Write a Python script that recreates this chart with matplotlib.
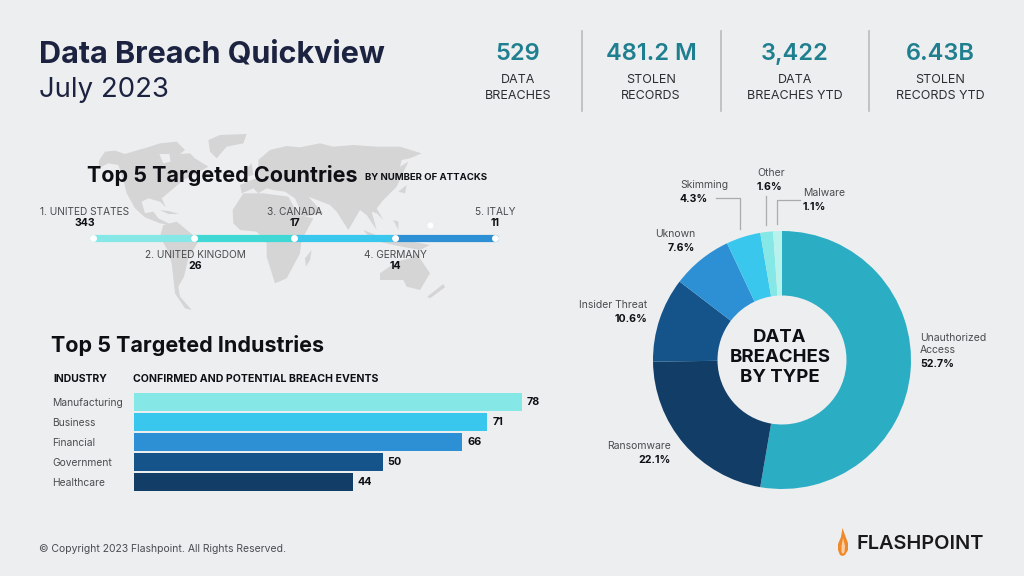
import matplotlib
matplotlib.use('Agg')
import matplotlib.pyplot as plt
from matplotlib.patches import Polygon

W, H = 1024, 576
BG = '#edeef0'
INK = '#0d0f14'
GREY = '#4a4c50'
TEAL = '#1f7f8f'
NAVY = '#1c2340'
LAND = '#d5d5d6'

plt.rcParams['font.family'] = ['Inter', 'DejaVu Sans']

# header numbers
kpi_values = ['529', '481.2 M', '3,422', '6.43B']
kpi_labels = ['DATA\nBREACHES', 'STOLEN\nRECORDS', 'DATA\nBREACHES YTD', 'STOLEN\nRECORDS YTD']

# countries
countries = ['1. UNITED STATES', '2. UNITED KINGDOM', '3. CANADA', '4. GERMANY', '5. ITALY']
country_attacks = [343, 26, 17, 14, 11]
country_ranks = [0, 1, 2, 3, 4]
segment_colors = ['#85e8e6', '#40d8d4', '#3ac7ee', '#2e90d4']

# industries
industries = ['Manufacturing', 'Business', 'Financial', 'Government', 'Healthcare']
industry_events = [78, 71, 66, 50, 44]
bar_colors = ['#85e8e6', '#3ac7ee', '#2e90d4', '#14548a', '#113d66']

# breach types, clockwise from the top
breach_types = ['Unauthorized\nAccess', 'Ransomware', 'Insider Threat', 'Uknown', 'Skimming', 'Other', 'Malware']
breach_pct = [52.7, 22.1, 10.6, 7.6, 4.3, 1.6, 1.1]
pie_colors = ['#2badc4', '#113d66', '#14548a', '#2e90d4', '#3ac7ee', '#85e8e6', '#b8f2ec']

# rough world map outlines, traced from crops of the reference
west_shapes = [
    [(58, 90), (75, 65), (105, 62), (135, 72), (175, 60), (210, 50), (240, 40), (290, 35), (315, 60), (300, 72),
     (330, 70), (345, 85), (385, 110), (350, 130), (310, 150), (275, 180), (245, 205), (258, 232), (240, 215),
     (205, 205), (185, 215), (195, 250), (220, 245), (235, 265), (275, 285), (240, 280), (195, 262), (165, 235),
     (140, 190), (130, 150), (115, 105), (85, 100), (55, 115)],
    [(385, 30), (420, 15), (500, 12), (490, 40), (440, 50), (410, 85), (390, 65)],
    [(240, 240), (270, 244), (297, 252), (265, 252)],
    [(250, 285), (290, 275), (345, 320), (355, 335), (325, 385), (312, 440), (295, 470), (300, 500), (335, 540),
     (315, 535), (285, 490), (275, 400), (265, 365), (240, 320)],
]
hudson_bay = [(238, 72), (268, 72), (272, 95), (250, 100)]
east_shapes = [
    [(38, 240), (70, 190), (130, 190), (205, 200), (235, 255), (280, 265), (245, 330), (240, 370), (200, 445),
     (165, 460), (140, 380), (140, 340), (110, 305), (60, 300), (40, 280)],
    [(255, 385), (275, 360), (270, 390), (258, 410)],
    [(115, 90), (150, 60), (200, 48), (240, 52), (300, 40), (340, 50), (400, 45), (470, 50), (540, 50), (605, 70),
     (570, 85), (545, 90), (540, 110), (565, 95), (530, 170), (510, 190), (490, 210), (470, 235), (490, 270),
     (470, 250), (455, 245), (470, 300), (440, 255), (420, 240), (385, 300), (350, 245), (330, 225), (265, 200),
     (310, 250), (250, 260), (225, 205), (195, 185), (160, 180), (140, 175), (115, 190), (100, 175), (65, 190),
     (60, 165), (95, 150), (120, 140), (115, 110)],
    [(75, 120), (95, 100), (100, 135), (80, 140)],
    [(535, 185), (560, 165), (555, 190)],
    [(430, 300), (480, 320), (550, 330), (630, 345), (600, 360), (520, 345), (455, 330)],
    [(520, 270), (535, 275), (535, 300)],
    [(480, 430), (530, 395), (570, 385), (590, 370), (630, 430), (600, 480), (560, 470), (550, 450), (480, 450)],
    [(622, 500), (670, 462), (675, 472), (630, 505)],
]
flame = [(842.5, 528), (845, 535), (848, 543), (848, 550), (845, 555), (842.5, 556), (840, 555), (838, 550),
         (838, 544), (841, 537)]
flame_inner = [(843, 538), (845, 546), (844.5, 552), (843, 554), (841.5, 552), (841.5, 546)]


def px_axes(fig, left, top, right, bottom, **kw):
    return fig.add_axes([left / W, 1 - bottom / H, (right - left) / W, (bottom - top) / H], **kw)


def crop_poly(shape, x0, color=LAND):
    return Polygon([(x / 3 + x0, y / 3 + 130) for x, y in shape], closed=True, fc=color, ec='none')


fig = plt.figure(figsize=(W / 100, H / 100), dpi=100, facecolor=BG)
base = px_axes(fig, 0, 0, W, H)
base.set_xlim(0, W)
base.set_ylim(H, 0)
base.axis('off')

for shape in west_shapes:
    base.add_patch(crop_poly(shape, 80))
base.add_patch(crop_poly(hudson_bay, 80, BG))
for shape in east_shapes:
    base.add_patch(crop_poly(shape, 220))

# --- header ---
base.text(39, 54.5, 'Data Breach Quickview', fontsize=22, fontweight='bold', color=NAVY, va='center')
base.text(39, 90, 'July 2023', fontsize=19.8, color=NAVY, va='center')
for x, val, lab in zip([518, 651, 795, 940], kpi_values, kpi_labels):
    base.text(x, 54, val, fontsize=17, fontweight='semibold', color=TEAL, ha='center', va='center')
    base.text(x, 88, lab, fontsize=9, color='#2b2d33', ha='center', va='center', linespacing=1.4)
for x in [582, 721, 869]:
    base.plot([x, x], [31, 111], color='#b9bbbe', lw=1.2)

# --- countries ---
base.text(87, 176, 'Top 5 Targeted Countries', fontsize=15.5, fontweight='bold', color=INK, va='center')
base.text(365, 178, 'BY NUMBER OF ATTACKS', fontsize=6.9, fontweight='bold', color=INK, va='center')

line = px_axes(fig, 93, 228, 495, 248)
line.set_xlim(0, 4)
line.set_ylim(-1, 1)
line.axis('off')
for i, c in enumerate(segment_colors):
    line.plot(country_ranks[i:i + 2], [0, 0], color=c, lw=5.2, solid_capstyle='round', clip_on=False)
line.scatter(country_ranks, [0] * 5, s=16, color='white', zorder=3, clip_on=False)

label_x = [85, 195, 295, 395, 495]
for i, (name, n) in enumerate(zip(countries, country_attacks)):
    y0 = 212 if i % 2 == 0 else 255
    base.text(label_x[i], y0, name, fontsize=7.3, color=GREY, ha='center', va='center')
    base.text(label_x[i], y0 + 11, str(n), fontsize=7.6, fontweight='bold', color=INK, ha='center', va='center')
base.scatter([430], [225], s=11, color='white')

# --- industries ---
base.text(51, 345, 'Top 5 Targeted Industries', fontsize=15.5, fontweight='bold', color=INK, va='center')
base.text(53, 378.5, 'INDUSTRY', fontsize=7.5, fontweight='bold', color=INK, va='center')
base.text(133, 378.5, 'CONFIRMED AND POTENTIAL BREACH EVENTS', fontsize=7.6, fontweight='bold', color=INK, va='center')

bars = px_axes(fig, 134, 392, 522, 492)
bars.patch.set_alpha(0)
rows = list(range(len(industries)))
bars.barh(rows, industry_events, height=0.9, color=bar_colors)
bars.set_xlim(0, max(industry_events))
bars.set_ylim(4.5, -0.5)
for s in bars.spines.values():
    s.set_visible(False)
bars.set_xticks([])
bars.set_yticks(rows, industries, fontsize=7.4, color=GREY)
bars.tick_params(axis='y', length=0, pad=0)
for lab in bars.get_yticklabels():
    lab.set_ha('left')
    lab.set_x(-82 / 388)
for r, v in zip(rows, industry_events):
    bars.text(v + 1, r, str(v), fontsize=7.8, fontweight='bold', color=INK, va='center', clip_on=False)

# --- donut ---
donut = px_axes(fig, 653, 231, 911, 489)
donut.pie(breach_pct, colors=pie_colors, startangle=90, counterclock=False, radius=1,
          wedgeprops={'width': 0.5, 'linewidth': 0})
donut.set_xlim(-1, 1)
donut.set_ylim(-1, 1)

base.text(780, 357.5, 'DATA\nBREACHES\nBY TYPE', fontsize=13.4, fontweight='bold', color=INK,
          ha='center', va='center', linespacing=1.25)

pie_labels = [
    (920, 338, 'left'), (671, 446, 'right'), (647, 305, 'right'), (695, 234, 'right'),
    (680, 185, 'left'), (757, 173, 'left'), (803, 193, 'left'),
]
for (x, y, ha), name, pct in zip(pie_labels, breach_types, breach_pct):
    if '\n' in name:
        for k, part in enumerate(name.split('\n')):
            base.text(x, y + 12 * k, part, fontsize=7.5, color=GREY, ha=ha, va='center')
        dy = 26
    else:
        base.text(x, y, name, fontsize=7.5, color=GREY, ha=ha, va='center')
        dy = 14
    base.text(x, y + dy, f'{pct}%', fontsize=7.6, fontweight='bold', color=INK, ha=ha, va='center')

for xs, ys in [([716, 740, 740], [198, 198, 229]), ([766, 766], [196, 225]), ([800, 777, 777], [200, 200, 224])]:
    base.plot(xs, ys, color='#a9abae', lw=0.9)

# --- footer ---
base.text(39, 549, '© Copyright 2023 Flashpoint. All Rights Reserved.', fontsize=7.5, color=GREY, va='center')
base.add_patch(Polygon(flame, closed=True, fc='#ee8a2c', ec='none'))
base.add_patch(Polygon(flame_inner, closed=True, fc='#f9cfa3', ec='none'))
base.text(857, 544, 'FLASHPOINT', fontsize=14.4, fontweight='semibold', color='#1a1a1c', va='center')

fig.savefig('out.png', dpi=100, facecolor=BG)
